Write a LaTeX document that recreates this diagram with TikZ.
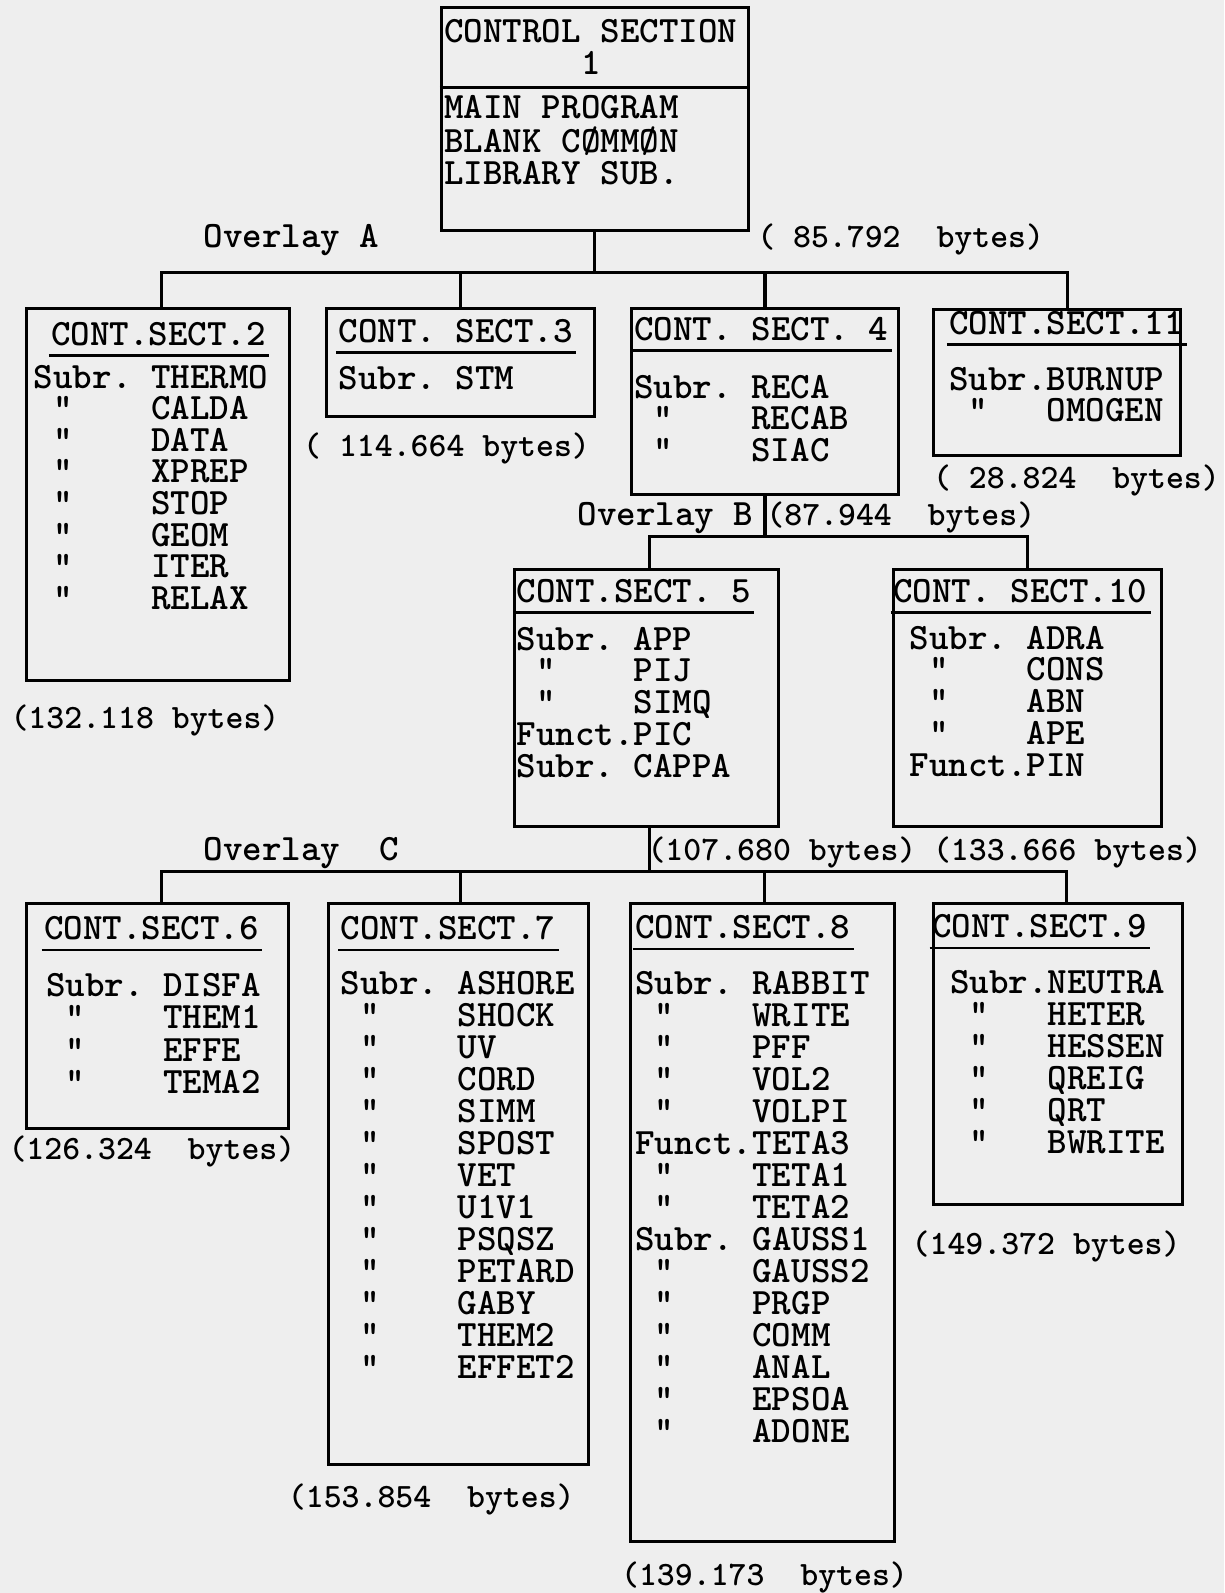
\documentclass[tikz,border=0pt]{standalone}
\usepackage{fontspec}
\usepackage{tikz}
\usetikzlibrary{positioning,calc}
\definecolor{paper}{HTML}{EEEEEE}

\begin{document}
\begin{tikzpicture}[
  x=0.5pt, y=-0.5pt,
  box/.style={draw, rectangle, anchor=north west, line width=1.5pt, inner sep=0pt},
  item/.style={anchor=base west, inner sep=0pt, text height=10.5pt, text depth=1.5pt, font=\ttfamily\bfseries\fontsize{18.3}{18}\selectfont},
  bytes/.style={item, font=\ttfamily\bfseries\fontsize{16.8}{17}\selectfont},
  uline/.style={line width=1.2pt},
  line/.style={draw, line width=1.5pt}
]
\path[use as bounding box, fill=paper] (0,0) rectangle (1205,1568);

% Control section 1
\node[box, minimum width=151pt, minimum height=109.5pt] (cs1) at (433,6) {};
\node[item, anchor=base] (cs1t) at ([shift={(-4,36)}]cs1.north) {CONTROL SECTION};
\node[item, anchor=base] (cs1n) at ([shift={(-4,67)}]cs1.north) {1};
\draw[line] ([shift={(0,80)}]cs1.north west) -- ([shift={(0,80)}]cs1.north east);
\node[item] (cs1a) at ([shift={(4,111)}]cs1.north west) {MAIN PROGRAM};
\node[item] (cs1b) at ([shift={(4,144)}]cs1.north west) {BLANK CØMMØN};
\node[item] (cs1c) at ([shift={(4,176)}]cs1.north west) {LIBRARY SUB.};
\node[item] (ovA) at ([shift={(-233,16)}]cs1.south west) {Overlay A};
\node[bytes] (cs1s) at ([shift={(7,16)}]cs1.south east) {( 85.792~~bytes)};

% Overlay A
\node[box, minimum width=129pt, minimum height=183pt] (cs2) at (25,302) {};
\node[box, minimum width=132pt, minimum height=53pt] (cs3) at (320,302) {};
\node[box, minimum width=131.5pt, minimum height=91.5pt] (cs4) at (620,302) {};
\node[box, minimum width=121.5pt, minimum height=72pt] (cs11) at (917,303) {};

\node[item] (cs2t) at ([shift={(25,38)}]cs2.north west) {CONT.SECT.2};
\foreach \entry [count=\i from 0] in {Subr.~THERMO, ~"~~~~CALDA, ~"~~~~DATA, ~"~~~~XPREP, ~"~~~~STOP, ~"~~~~GEOM, ~"~~~~ITER, ~"~~~~RELAX}
  \node[item] (cs2l\i) at ([shift={(8,80+31.1*\i)}]cs2.north west) {\entry};
\node[bytes] (cs2s) at ([shift={(-15,46)}]cs2.south west) {(132.118 bytes)};

\node[item] (cs3t) at ([shift={(13,35)}]cs3.north west) {CONT. SECT.3};
\node[item] (cs3l0) at ([shift={(13,81)}]cs3.north west) {Subr.~STM};
\node[bytes] (cs3s) at ([shift={(-22,38)}]cs3.south west) {( 114.664 bytes)};

\node[item] (cs4t) at ([shift={(4,33)}]cs4.north west) {CONT. SECT. 4};
\foreach \entry [count=\i from 0] in {Subr.~RECA, ~"~~~~RECAB, ~"~~~~SIAC}
  \node[item] (cs4l\i) at ([shift={(4,90+31*\i)}]cs4.north west) {\entry};

\node[item] (cs11t) at ([shift={(17,26)}]cs11.north west) {CONT.SECT.11};
\foreach \entry [count=\i from 0] in {Subr.BURNUP, ~"~~~OMOGEN}
  \node[item] (cs11l\i) at ([shift={(17,81+31*\i)}]cs11.north west) {\entry};
\node[bytes] (cs11s) at ([shift={(1,31)}]cs11.south west) {( 28.824~~bytes)};

\node[item, anchor=base east] (ovB) at ([shift={(-11,29)}]cs4.south) {Overlay B};
\node[bytes] (cs4s) at ([shift={(1,29)}]cs4.south) {(87.944~~bytes)};

% Overlay B
\node[box, minimum width=130pt, minimum height=126.5pt] (cs5) at (505,559) {};
\node[box, minimum width=132pt, minimum height=126.5pt] (cs10) at (878,559) {};

\node[item] (cs5t) at ([shift={(3,34)}]cs5.north west) {CONT.SECT. 5};
\foreach \entry [count=\i from 0] in {Subr.~APP, ~"~~~~PIJ, ~"~~~~SIMQ, Funct.PIC, Subr.~CAPPA}
  \node[item] (cs5l\i) at ([shift={(3,81+31.25*\i)}]cs5.north west) {\entry};
\node[bytes] (cs5s) at ([shift={(132,32)}]cs5.south west) {(107.680 bytes)};

\node[item] (cs10t) at ([shift={(1,34)}]cs10.north west) {CONT. SECT.10};
\foreach \entry [count=\i from 0] in {Subr.~ADRA, ~"~~~~CONS, ~"~~~~ABN, ~"~~~~APE, Funct.PIN}
  \node[item] (cs10l\i) at ([shift={(17,80+31.25*\i)}]cs10.north west) {\entry};
\node[bytes] (cs10s) at ([shift={(40,32)}]cs10.south west) {(133.666 bytes)};

% Overlay C
\node[box, minimum width=128.5pt, minimum height=110.5pt] (cs6) at (25,888) {};
\node[box, minimum width=128pt, minimum height=276pt] (cs7) at (322,888) {};
\node[box, minimum width=130pt, minimum height=314pt] (cs8) at (619,888) {};
\node[box, minimum width=122.5pt, minimum height=148pt] (cs9) at (917,888) {};

\node[item] (ovC) at ([shift={(175,-41)}]cs6.north west) {Overlay~~C};

\node[item] (cs6t) at ([shift={(18,37)}]cs6.north west) {CONT.SECT.6};
\foreach \entry [count=\i from 0] in {Subr.~DISFA, ~"~~~~THEM1, ~"~~~~EFFE, ~"~~~~TEMA2}
  \node[item] (cs6l\i) at ([shift={(20,93+31.7*\i)}]cs6.north west) {\entry};
\node[bytes] (cs6s) at ([shift={(-17,29)}]cs6.south west) {(126.324~~bytes)};

\node[item] (cs7t) at ([shift={(13,37)}]cs7.north west) {CONT.SECT.7};
\foreach \entry [count=\i from 0] in {Subr.~ASHORE, ~"~~~~SHOCK, ~"~~~~UV, ~"~~~~CORD, ~"~~~~SIMM, ~"~~~~SPOST, ~"~~~~VET, ~"~~~~U1V1, ~"~~~~PSQSZ, ~"~~~~PETARD, ~"~~~~GABY, ~"~~~~THEM2, ~"~~~~EFFET2}
  \node[item] (cs7l\i) at ([shift={(13,91+31.5*\i)}]cs7.north west) {\entry};
\node[bytes] (cs7s) at ([shift={(-39,41)}]cs7.south west) {(153.854~~bytes)};

\node[item] (cs8t) at ([shift={(6,36)}]cs8.north west) {CONT.SECT.8};
\foreach \entry [count=\i from 0] in {Subr.~RABBIT, ~"~~~~WRITE, ~"~~~~PFF, ~"~~~~VOL2, ~"~~~~VOLPI, Funct.TETA3, ~"~~~~TETA1, ~"~~~~TETA2, Subr.~GAUSS1, ~"~~~~GAUSS2, ~"~~~~PRGP, ~"~~~~COMM, ~"~~~~ANAL, ~"~~~~EPSOA, ~"~~~~ADONE}
  \node[item] (cs8l\i) at ([shift={(6,91+31.5*\i)}]cs8.north west) {\entry};
\node[bytes] (cs8s) at ([shift={(-8,42)}]cs8.south west) {(139.173~~bytes)};

\node[item] (cs9t) at ([shift={(0,35)}]cs9.north west) {CONT.SECT.9};
\foreach \entry [count=\i from 0] in {Subr.NEUTRA, ~"~~~HETER, ~"~~~HESSEN, ~"~~~QREIG, ~"~~~QRT, ~"~~~BWRITE}
  \node[item] (cs9l\i) at ([shift={(18,90+31.4*\i)}]cs9.north west) {\entry};
\node[bytes] (cs9s) at ([shift={(-20,48)}]cs9.south west) {(149.372 bytes)};

% Underlines
\foreach \t in {cs2t,cs3t,cs4t,cs11t,cs5t,cs10t,cs6t,cs7t,cs8t,cs9t}
  \draw[uline] ([shift={(-2,10)}]\t.base west) -- ([shift={(3,10)}]\t.base east);

% Connectors
\coordinate (cs2top) at ([shift={(3,0)}]cs2.north);
\coordinate (cs11top) at ([shift={(11,0)}]cs11.north);
\coordinate (cs5top) at ([shift={(3,0)}]cs5.north);
\coordinate (cs5bot) at ([shift={(3,0)}]cs5.south);
\coordinate (cs6top) at ([shift={(3.5,0)}]cs6.north);
\coordinate (cs7top) at ([shift={(2,0)}]cs7.north);
\coordinate (cs8top) at ([shift={(2,0)}]cs8.north);
\coordinate (cs9top) at ([shift={(8.5,0)}]cs9.north);

\draw[line] (cs1.south) -- ++(0,40) coordinate (busA);
\draw[line] (cs2top) |- (busA) -| (cs11top);
\draw[line] (cs3.north) -- (cs3.north |- busA);
\draw[line] (cs4.north) -- (cs4.north |- busA);

\draw[line] (cs4.south) -- ++(0,40) coordinate (busB);
\draw[line] (cs5top) |- (busB) -| (cs10.north);

\draw[line] (cs5bot) -- ++(0,43) coordinate (busC);
\draw[line] (cs6top) |- (busC) -| (cs9top);
\draw[line] (cs7top) -- (cs7top |- busC);
\draw[line] (cs8top) -- (cs8top |- busC);

\end{tikzpicture}
\end{document}
